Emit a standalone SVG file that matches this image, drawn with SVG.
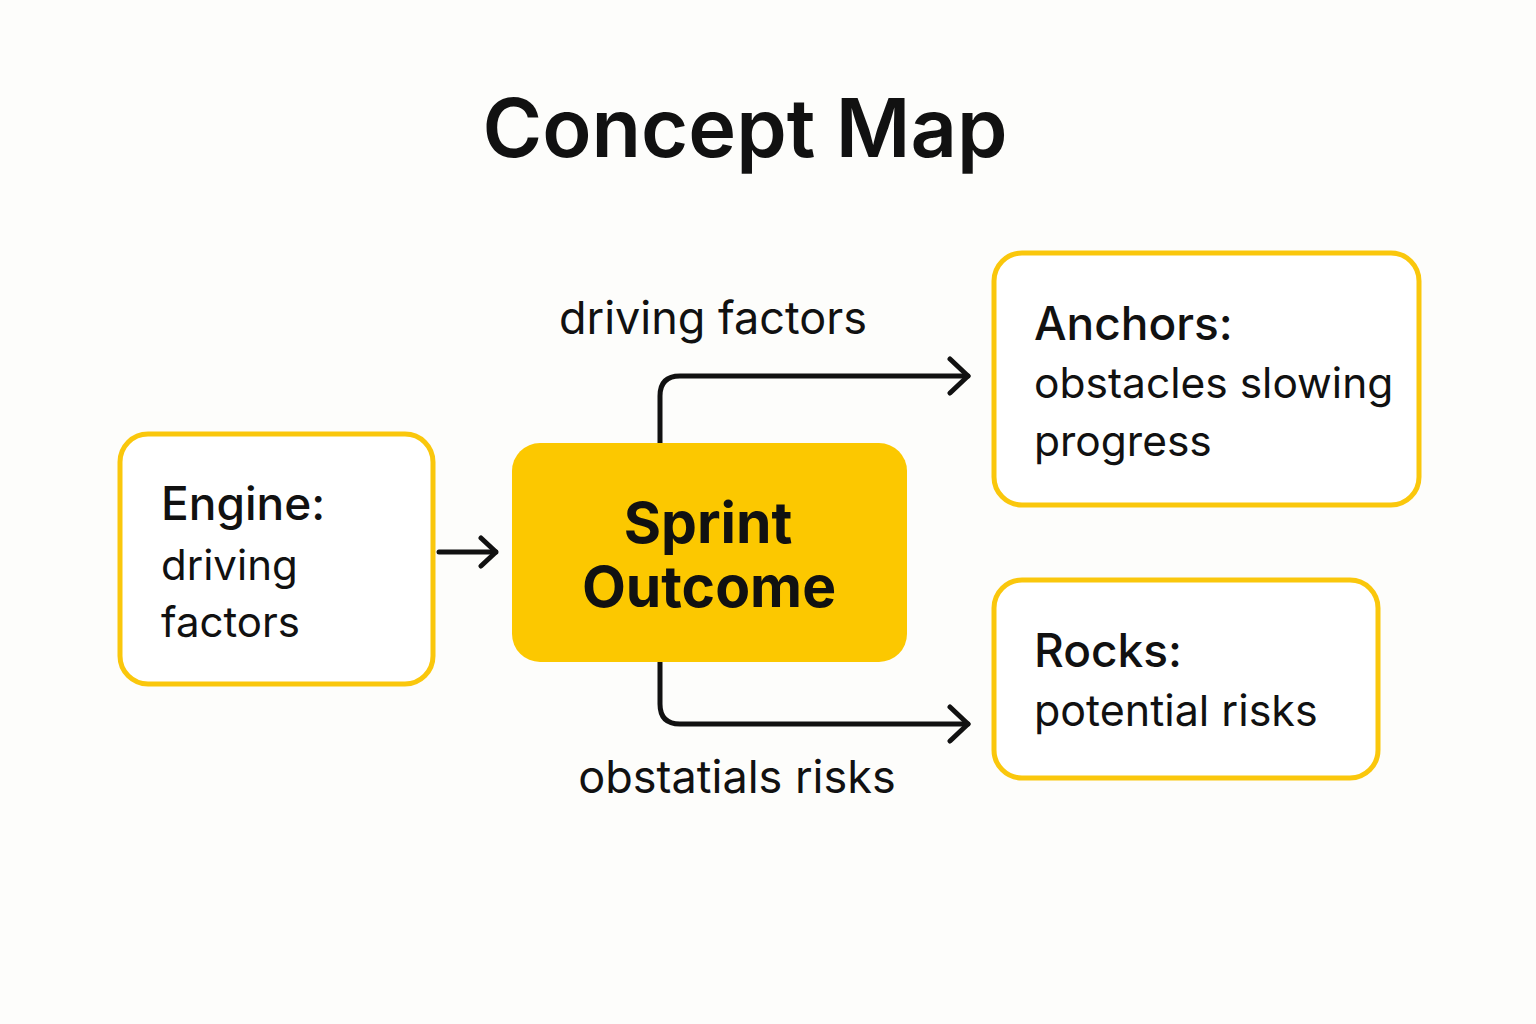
<svg xmlns="http://www.w3.org/2000/svg" width="1536" height="1024" viewBox="0 0 1536 1024">
  <defs>
    <style>
      .t { font-family: Inter, "Liberation Sans", sans-serif; fill: #111; }
      .box { fill: #fff; stroke: #FAC70C; stroke-width: 5; }
      .conn { fill: none; stroke: #111; stroke-width: 5; stroke-linecap: round; stroke-linejoin: round; }
    </style>
    <marker id="arr" viewBox="0 0 24 40" refX="21" refY="20" markerWidth="24" markerHeight="40" markerUnits="userSpaceOnUse" orient="auto">
      <path d="M3 3 L21 20 L3 37" fill="none" stroke="#111" stroke-width="5" stroke-linecap="round" stroke-linejoin="round"/>
    </marker>
    <marker id="arrS" viewBox="0 0 20 34" refX="18" refY="17" markerWidth="20" markerHeight="34" markerUnits="userSpaceOnUse" orient="auto">
      <path d="M3 3 L18 17 L3 31" fill="none" stroke="#111" stroke-width="5" stroke-linecap="round" stroke-linejoin="round"/>
    </marker>
  </defs>
  <rect width="1536" height="1024" fill="#FDFDFB"/>
  <text class="t" x="745" y="157" text-anchor="middle" font-size="81" font-weight="600">Concept Map</text>

  <g id="connectors">
    <path class="conn" d="M439 552 H496" marker-end="url(#arrS)"/>
    <path class="conn" d="M660 443 V396 Q660 376 680 376 H968" marker-end="url(#arr)"/>
    <path class="conn" d="M660 662 V704 Q660 724 680 724 H968" marker-end="url(#arr)"/>
    <text class="t" x="713" y="334" text-anchor="middle" font-size="45">driving factors</text>
    <text class="t" x="737" y="793" text-anchor="middle" font-size="45">obstatials risks</text>
  </g>

  <g id="engine">
    <rect class="box" x="120" y="434" width="313" height="250" rx="28"/>
    <text class="t" x="161" y="520" font-size="46" font-weight="500">Engine:</text>
    <text class="t" x="161" y="580" font-size="42">driving</text>
    <text class="t" x="161" y="637" font-size="42">factors</text>
  </g>

  <g id="sprint">
    <rect x="512" y="443" width="395" height="219" rx="28" fill="#FCC800"/>
    <text class="t" x="708" y="543" text-anchor="middle" font-size="57" font-weight="700">Sprint</text>
    <text class="t" x="709" y="607" text-anchor="middle" font-size="57" font-weight="700">Outcome</text>
  </g>

  <g id="anchors">
    <rect class="box" x="994" y="253" width="425" height="252" rx="28"/>
    <text class="t" x="1034" y="340" font-size="46" font-weight="500">Anchors:</text>
    <text class="t" x="1034" y="398" font-size="42.5">obstacles slowing</text>
    <text class="t" x="1034" y="456" font-size="42.5">progress</text>
  </g>

  <g id="rocks">
    <rect class="box" x="994" y="580" width="384" height="198" rx="28"/>
    <text class="t" x="1034" y="667" font-size="46" font-weight="500">Rocks:</text>
    <text class="t" x="1034" y="726" font-size="43">potential risks</text>
  </g>
</svg>
